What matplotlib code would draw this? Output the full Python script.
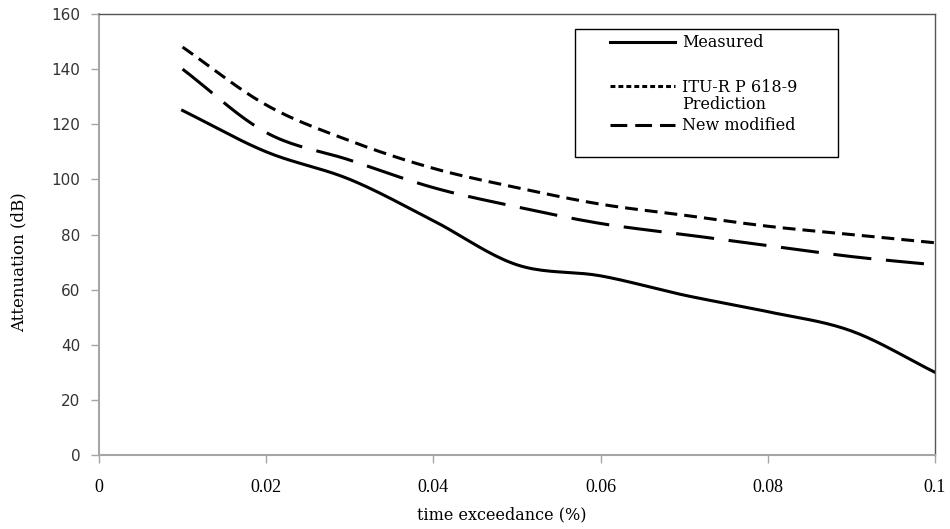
import numpy as np
import matplotlib.pyplot as plt
from matplotlib.lines import Line2D
from matplotlib.patches import Rectangle

# values
time_pct = [0.01, 0.02, 0.03, 0.04, 0.05, 0.06, 0.07, 0.08, 0.09, 0.1]
measured = [125, 110, 100, 85, 69, 65, 58, 52, 45, 30]
itu_pred = [148, 127, 114, 104, 97, 91, 87, 83, 80, 77]
new_mod = [140, 117, 107, 97, 90, 84, 80, 76, 72, 69]

x_ticks = [0, 0.02, 0.04, 0.06, 0.08, 0.1]
x_ticklabels = ['0', '0.02', '0.04', '0.06', '0.08', '0.1']
y_ticks = [0, 20, 40, 60, 80, 100, 120, 140, 160]


def smooth(x, y, n=20):
    # Catmull-Rom curve through the points, like Excel's smoothed line
    x = np.asarray(x, float)
    y = np.asarray(y, float)
    px = np.concatenate([[2 * x[0] - x[1]], x, [2 * x[-1] - x[-2]]])
    py = np.concatenate([[2 * y[0] - y[1]], y, [2 * y[-1] - y[-2]]])
    t = np.linspace(0, 1, n, endpoint=False)
    xs, ys = [], []
    for i in range(1, len(px) - 2):
        for p, out in ((px, xs), (py, ys)):
            p0, p1, p2, p3 = p[i - 1], p[i], p[i + 1], p[i + 2]
            out.extend(0.5 * (2 * p1 + (-p0 + p2) * t
                              + (2 * p0 - 5 * p1 + 4 * p2 - p3) * t ** 2
                              + (-p0 + 3 * p1 - 3 * p2 + p3) * t ** 3))
    xs.append(x[-1])
    ys.append(y[-1])
    return xs, ys


SERIF = 'Liberation Serif'
WIDE_SERIF = 'DejaVu Serif'
LW = 2.2

fig = plt.figure(figsize=(9.5, 5.29), dpi=100)
ax = fig.add_axes([0.1042, 0.1399, 0.8800, 0.8336])

ax.plot(*smooth(time_pct, measured), color='black', lw=LW)
ax.plot(*smooth(time_pct, itu_pred), color='black', lw=LW, dashes=(4.2, 2.3))
ax.plot(*smooth(time_pct, new_mod), color='black', lw=LW, dashes=(12.5, 4.8))

ax.set_xlim(0, 0.1)
ax.set_ylim(0, 160)
ax.set_xticks(x_ticks)
ax.set_xticklabels(x_ticklabels)
ax.set_yticks(y_ticks)

for lbl in ax.get_xticklabels():
    lbl.set_fontfamily(SERIF)
    lbl.set_fontsize(13)
for lbl in ax.get_yticklabels():
    lbl.set_fontfamily('DejaVu Sans')
    lbl.set_fontsize(11)
    lbl.set_color('#333333')

ax.set_xlabel('time exceedance (%)', fontfamily=WIDE_SERIF, fontsize=11.5)
ax.xaxis.set_label_coords(0.482, -0.116)
ax.set_ylabel('Attenuation (dB)', fontfamily=WIDE_SERIF, fontsize=12)
ax.yaxis.set_label_coords(-0.086, 0.438)

for side in ('left', 'bottom'):
    ax.spines[side].set_color('#a6a6a6')
    ax.spines[side].set_linewidth(1.5)
for side in ('top', 'right'):
    ax.spines[side].set_color('#555555')
    ax.spines[side].set_linewidth(1)
ax.tick_params(axis='both', color='#a6a6a6', length=6, width=1)
ax.tick_params(axis='x', pad=11)
ax.tick_params(axis='y', pad=7.5)

# legend box drawn by hand to copy Excel's uneven spacing
ax.add_patch(Rectangle((0.5694, 0.6757), 0.3146, 0.2903, transform=ax.transAxes,
                       fill=True, facecolor='white', edgecolor='black', lw=1, zorder=5))
legend_rows = [
    ('Measured', 0.9365, 0.9365, None),
    ('ITU-R P 618-9\nPrediction', 0.8367, 0.8152, (1.6, 1.0)),
    ('New modified', 0.7483, 0.7483, (5.5, 2.6)),
]
for label, key_y, text_y, dash in legend_rows:
    key = Line2D([0.6112, 0.6890], [key_y, key_y], transform=ax.transAxes,
                 color='black', lw=LW, zorder=6)
    if dash:
        key.set_dashes(dash)
    ax.add_line(key)
    ax.text(0.6974, text_y, label, transform=ax.transAxes, fontfamily=WIDE_SERIF,
            fontsize=11.5, va='center', linespacing=1.0, zorder=6)

fig.savefig('out.png', dpi=100)
